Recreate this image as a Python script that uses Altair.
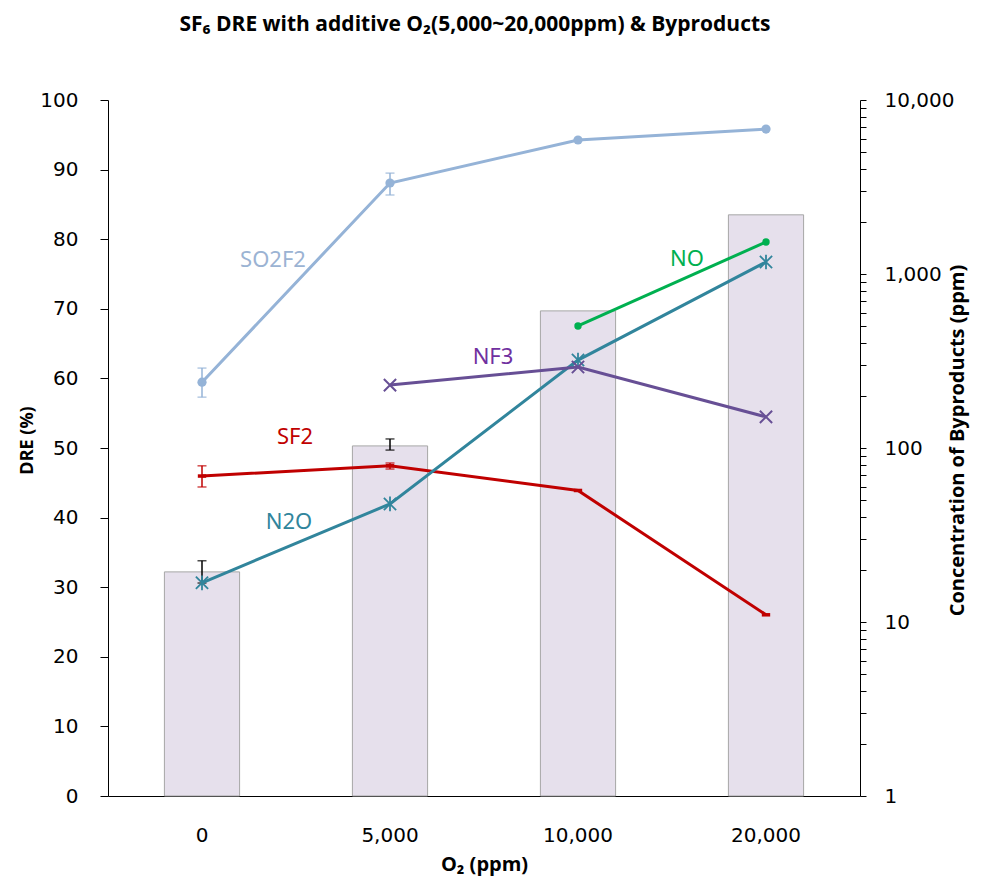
import altair as alt
import pandas as pd

# ---------------- data ----------------
o2_labels = ["0", "5,000", "10,000", "20,000"]

dre = [32.2, 50.3, 69.7, 83.5]
dre_err_low = [30.6, 49.7, None, None]
dre_err_high = [33.8, 51.3, None, None]

series_names = ["SO2F2", "SF2", "N2O", "NF3", "NO"]
so2f2 = [239, 3334, 5890, 6810]
sf2 = [69, 79, 57, 11]
n2o = [16.8, 47.7, 320, 1172]
nf3 = [None, 230, 292, 151]
no_ = [None, None, 503, 1528]

so2f2_err_low = [196, 2845, None, None]
so2f2_err_high = [288, 3800, None, None]
sf2_err_low = [59.7, 75.7, None, None]
sf2_err_high = [79, 82, None, None]

label_texts = ["SO2F2", "NO", "NF3", "SF2", "N2O"]
label_cats = ["0", "10,000", "5,000", "0", "0"]
label_values = [1204, 1220, 333, 116, 37.6]

# ---------------- styles ----------------
colors = {"SO2F2": "#95B3D7", "SF2": "#C00000", "N2O": "#31859C",
          "NF3": "#674F95", "NO": "#00B050"}
label_colors = {"SO2F2": "#9BB3D3", "SF2": "#C00000", "N2O": "#31859C",
                "NF3": "#7030A0", "NO": "#00B050"}
label_dx = {"SO2F2": 71, "NO": 109, "NF3": 103, "SF2": 93, "N2O": 87}
title_font = "Open Sans"

# ---------------- tables ----------------
bar_df = pd.DataFrame({"O2": o2_labels, "dre": dre})
bar_err_df = pd.DataFrame({"O2": o2_labels, "lo": dre_err_low, "hi": dre_err_high}).dropna()

rows = []
for name, vals in zip(series_names, [so2f2, sf2, n2o, nf3, no_]):
    for i, (lab, v) in enumerate(zip(o2_labels, vals)):
        if v is not None:
            rows.append({"series": name, "O2": lab, "value": v, "idx": i})
line_df = pd.DataFrame(rows)

err_rows = []
for name, lows, highs in [("SO2F2", so2f2_err_low, so2f2_err_high),
                          ("SF2", sf2_err_low, sf2_err_high)]:
    for lab, lo, hi in zip(o2_labels, lows, highs):
        if lo is not None:
            err_rows.append({"series": name, "O2": lab, "lo": lo, "hi": hi})
err_df = pd.DataFrame(err_rows)

label_df = pd.DataFrame({"text": label_texts, "O2": label_cats, "value": label_values})

# ---------------- encodings ----------------
x_scale = alt.Scale(paddingInner=0.6, paddingOuter=0.3)
x_enc = alt.X("O2:N", sort=o2_labels, scale=x_scale, title="O₂ (ppm)",
              axis=alt.Axis(labelAngle=0, ticks=False, tickSize=0, labelPadding=29,
                            labelFontSize=20, labelFont="DejaVu Sans", labelColor="#000000",
                            domainColor="#000000", domainWidth=1,
                            titleFontSize=20, titleFontWeight="bold", titleFont=title_font,
                            titleColor="#000000", titleY=68, titleBaseline="middle"))
x_plain = alt.X("O2:N", sort=o2_labels, scale=x_scale)

left_y_scale = alt.Scale(domain=[0, 100], nice=False)
left_axis = alt.Axis(values=[0, 10, 20, 30, 40, 50, 60, 70, 80, 90, 100], tickSize=8,
                     tickColor="#000000", domainColor="#000000", labelFontSize=20,
                     labelFont="DejaVu Sans", labelColor="#000000", labelPadding=22,
                     title="DRE (%)", titleFontSize=18, titleFontWeight="bold",
                     titleFont=title_font, titleColor="#000000",
                     titleX=-81, titleY=340, titleAngle=270, titleBaseline="middle",
                     titleAlign="center", grid=False)

bars = alt.Chart(bar_df).mark_bar(fill="#E6E0EC", stroke="#A6A6A6", strokeWidth=1).encode(
    x=x_enc, y=alt.Y("dre:Q", scale=left_y_scale, axis=left_axis))
bar_err_rule = alt.Chart(bar_err_df).mark_rule(color="#000000", strokeWidth=1.5).encode(
    x=x_plain, y="lo:Q", y2="hi:Q")
bar_err_lo = alt.Chart(bar_err_df).mark_tick(color="#000000", size=9, thickness=1.5).encode(
    x=x_plain, y="lo:Q")
bar_err_hi = alt.Chart(bar_err_df).mark_tick(color="#000000", size=9, thickness=1.5).encode(
    x=x_plain, y="hi:Q")
left_layer = alt.layer(bars, bar_err_rule, bar_err_lo, bar_err_hi)

right_tick_values = [m * 10 ** e for e in range(4) for m in range(1, 10)] + [10000]
major_test = "indexof([1,10,100,1000,10000], datum.value) >= 0"
right_y_scale = alt.Scale(type="log", domain=[1, 10000], nice=False)
right_axis = alt.Axis(orient="right", values=right_tick_values,
                      labelExpr=major_test + " ? format(datum.value, ',') : ''",
                      tickSize=6, tickColor="#000000", domainColor="#000000", labelFontSize=20,
                      labelFont="DejaVu Sans", labelColor="#000000", labelPadding=18,
                      title="Concentration of Byproducts  (ppm)", titleFontSize=20,
                      titleFontWeight="bold", titleFont=title_font, titleColor="#000000",
                      titleX=97, titleY=340, titleAngle=270, titleBaseline="middle",
                      titleAlign="center", grid=False)
y_right = alt.Y("value:Q", scale=right_y_scale, axis=right_axis)
color_enc = alt.Color("series:N", scale=alt.Scale(domain=series_names,
                      range=[colors[s] for s in series_names]), legend=None)

lines = alt.Chart(line_df).mark_line(strokeWidth=3).encode(
    x=x_plain, y=y_right, color=color_enc, detail="series:N", order="idx:Q")

right_parts = [lines]

def pts(name, **mk):
    return alt.Chart(line_df).transform_filter(alt.datum.series == name).mark_point(**mk).encode(
        x=x_plain, y=alt.Y("value:Q", scale=right_y_scale))

right_parts.append(pts("SO2F2", shape="circle", filled=True, size=85, color=colors["SO2F2"], opacity=1))
right_parts.append(pts("NO", shape="circle", filled=True, size=55, color=colors["NO"], opacity=1))
right_parts.append(pts("N2O", shape="M-1,-1L1,1M-1,1L1,-1M0,-1.2L0,1.2", filled=False, size=150,
                       stroke=colors["N2O"], strokeWidth=1.8, opacity=1))
right_parts.append(pts("NF3", shape="M-1,-1L1,1M-1,1L1,-1", filled=False, size=150,
                       stroke=colors["NF3"], strokeWidth=2, opacity=1))
right_parts.append(pts("SF2", shape="M-1,0L1,0", filled=False, size=70,
                       stroke=colors["SF2"], strokeWidth=3.5, opacity=1))

for name in ["SO2F2", "SF2"]:
    sub = alt.Chart(err_df).transform_filter(alt.datum.series == name)
    right_parts.append(sub.mark_rule(color=colors[name], strokeWidth=1.5).encode(
        x=x_plain, y=alt.Y("lo:Q", scale=right_y_scale), y2="hi:Q"))
    right_parts.append(sub.mark_tick(color=colors[name], size=9, thickness=1.5).encode(
        x=x_plain, y=alt.Y("lo:Q", scale=right_y_scale)))
    right_parts.append(sub.mark_tick(color=colors[name], size=9, thickness=1.5).encode(
        x=x_plain, y=alt.Y("hi:Q", scale=right_y_scale)))

for name in label_texts:
    right_parts.append(alt.Chart(label_df).transform_filter(alt.datum.text == name).mark_text(
        font="Noto Sans", fontSize=22, color=label_colors[name], dx=label_dx[name],
        align="center", baseline="middle").encode(
        x=x_plain, y=alt.Y("value:Q", scale=right_y_scale), text="text:N"))

right_layer = alt.layer(*right_parts)

chart = alt.layer(left_layer, right_layer).resolve_scale(y="independent").properties(
    width=752, height=696,
    autosize=alt.AutoSizeParams(type="none"),
    padding={"left": 100, "top": 92, "right": 129, "bottom": 83},
    title=alt.TitleParams(text="SF₆ DRE with additive O₂(5,000~20,000ppm) & Byproducts",
                          fontSize=21, fontWeight="bold", font=title_font,
                          color="#000000", anchor="middle", offset=55, dx=-9),
).configure_view(stroke=None).configure_axis(grid=False)

chart.save("out.html", embed_options={"renderer": "svg", "actions": False})
